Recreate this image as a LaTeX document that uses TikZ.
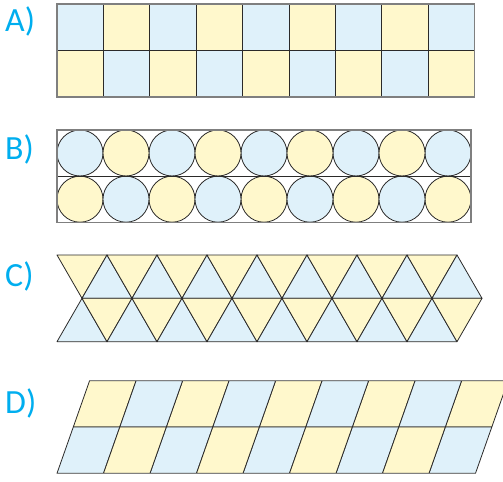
\documentclass[tikz,border=0pt]{standalone}
\usepackage{fontspec}
\setmainfont{Carlito}
\usepackage{xcolor}
\usepackage{tikz}
\usetikzlibrary{positioning}
\definecolor{celeste}{HTML}{DFF1FA}
\definecolor{amarillo}{HTML}{FFF8CC}
\definecolor{cian}{HTML}{00AEEF}
\definecolor{grisborde}{HTML}{7F7F7F}
\definecolor{negrolinea}{HTML}{2B2A29}

\begin{document}
\begin{tikzpicture}[
    x=1bp, y=-1bp,
    rotulo/.style={text=cian, font=\fontsize{34}{40}\selectfont, anchor=base west, inner sep=0pt},
    celda/.style={draw=negrolinea, line width=0.8bp},
    marco/.style={draw=grisborde, line width=1.4bp},
    pieza/.style={draw=negrolinea, line width=0.8bp, line join=round}
]
\clip (0,0) rectangle (503,482);

% etiquetas
\node[rotulo] (etqA) at (5,32) {A)};
\node[rotulo] (etqB) at (5,160) {B)};
\node[rotulo] (etqC) at (5,286) {C)};
\node[rotulo] (etqD) at (5,413) {D)};

% A) cuadrados
\foreach \i in {0,2,4,6,8} {
    \fill[celeste] ({57+46.4*\i},4) rectangle +(46.4,46.5);
    \fill[amarillo] ({57+46.4*\i},50.5) rectangle +(46.4,46.5);
}
\foreach \i in {1,3,5,7} {
    \fill[amarillo] ({57+46.4*\i},4) rectangle +(46.4,46.5);
    \fill[celeste] ({57+46.4*\i},50.5) rectangle +(46.4,46.5);
}
\foreach \i in {1,...,8}
    \draw[celda] ({57+46.4*\i},4) -- ({57+46.4*\i},97);
\draw[celda] (57,50.5) -- (474.6,50.5);
\draw[marco] (57,4) rectangle (474.6,97);

% B) circulos
\foreach \i in {0,2,4,6,8} {
    \draw[pieza, fill=celeste] ({80+46*\i},153) circle (23);
    \draw[pieza, fill=amarillo] ({80+46*\i},199.2) circle (23);
}
\foreach \i in {1,3,5,7} {
    \draw[pieza, fill=amarillo] ({80+46*\i},153) circle (23);
    \draw[pieza, fill=celeste] ({80+46*\i},199.2) circle (23);
}
\draw[celda] (57,176) -- (471,176);
\draw[marco] (57,130) rectangle (471,222.3);

% C) triangulos
\foreach \k in {0,...,7} {
    \draw[pieza, fill=amarillo] ({57+50*\k},255) -- ({107+50*\k},255) -- ({82+50*\k},298.3) -- cycle;
    \draw[pieza, fill=celeste] ({82+50*\k},298.3) -- ({132+50*\k},298.3) -- ({107+50*\k},255) -- cycle;
    \draw[pieza, fill=celeste] ({57+50*\k},341.7) -- ({107+50*\k},341.7) -- ({82+50*\k},298.3) -- cycle;
    \draw[pieza, fill=amarillo] ({82+50*\k},298.3) -- ({132+50*\k},298.3) -- ({107+50*\k},341.7) -- cycle;
}

% D) romboides
\foreach \i in {0,2,4,6,8} {
    \draw[pieza, fill=amarillo] ({73.3+46.5*\i},427) -- ({119.8+46.5*\i},427) -- ({136.1+46.5*\i},380.7) -- ({89.6+46.5*\i},380.7) -- cycle;
    \draw[pieza, fill=celeste] ({57+46.5*\i},473.3) -- ({103.5+46.5*\i},473.3) -- ({119.8+46.5*\i},427) -- ({73.3+46.5*\i},427) -- cycle;
}
\foreach \i in {1,3,5,7} {
    \draw[pieza, fill=celeste] ({73.3+46.5*\i},427) -- ({119.8+46.5*\i},427) -- ({136.1+46.5*\i},380.7) -- ({89.6+46.5*\i},380.7) -- cycle;
    \draw[pieza, fill=amarillo] ({57+46.5*\i},473.3) -- ({103.5+46.5*\i},473.3) -- ({119.8+46.5*\i},427) -- ({73.3+46.5*\i},427) -- cycle;
}
\draw[marco] (89.6,380.7) -- (508.1,380.7);
\draw[marco] (57,473.3) -- (475.5,473.3);
\end{tikzpicture}
\end{document}
